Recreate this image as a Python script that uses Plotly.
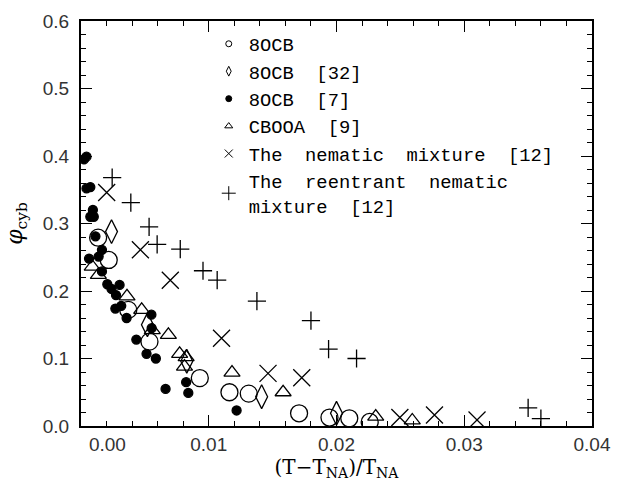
import plotly.graph_objects as go

# ---- data ----
ocb_x = [0.00134, 0.00217, 0.0037, 0.00536, 0.00930, 0.01162, 0.01313, 0.01707, 0.01945, 0.02100, 0.02260]
ocb_y = [0.279, 0.246, 0.172, 0.125, 0.0710, 0.0500, 0.0480, 0.0188, 0.0125, 0.0114, 0.0060]

ocb32_x = [0.00239, 0.00520, 0.00828, 0.01414, 0.02000]
ocb32_y = [0.288, 0.150, 0.096, 0.0434, 0.0188]

ocb7_x = [0.00023, 0.00043, 0.00043, 0.00073, 0.00093, 0.00073, 0.00100, 0.00113, 0.00164, 0.00063,
          0.00138, 0.00164, 0.00206, 0.00239, 0.00274, 0.00302, 0.00315, 0.00269, 0.00357, 0.00551,
          0.00553, 0.00433, 0.00513, 0.00586, 0.00662, 0.00823, 0.00840, 0.01218]
ocb7_y = [0.395, 0.399, 0.352, 0.354, 0.320, 0.310, 0.310, 0.281, 0.261, 0.248,
          0.251, 0.229, 0.210, 0.203, 0.194, 0.209, 0.178, 0.174, 0.160, 0.165,
          0.145, 0.128, 0.107, 0.100, 0.055, 0.065, 0.049, 0.023]

cbooa_x = [0.00088, 0.00136, 0.00360, 0.00475, 0.00558, 0.00684, 0.00772, 0.00823, 0.00810, 0.01182, 0.01582, 0.02307, 0.02593]
cbooa_y = [0.236, 0.224, 0.192, 0.172, 0.142, 0.135, 0.107, 0.102, 0.088, 0.079, 0.050, 0.0138, 0.0082]

nem_x = [0.00201, 0.00465, 0.00699, 0.01100, 0.01464, 0.01728, 0.02496, 0.02767, 0.03100]
nem_y = [0.346, 0.261, 0.216, 0.130, 0.078, 0.0716, 0.0125, 0.0163, 0.0090]

reent_x = [0.00244, 0.00390, 0.00533, 0.00596, 0.00777, 0.00955, 0.01066, 0.01377, 0.01800, 0.01938, 0.02157, 0.03500, 0.03600]
reent_y = [0.368, 0.331, 0.295, 0.269, 0.262, 0.230, 0.216, 0.185, 0.156, 0.114, 0.100, 0.027, 0.011]

S = "\u00a0\u00a0"
series_names = ["8OCB", "8OCB" + S + "[32]", "8OCB" + S + "[7]", "CBOOA" + S + "[9]",
                "The" + S + "nematic" + S + "mixture" + S + "[12]",
                "The" + S + "reentrant" + S + "nematic<br>mixture" + S + "[12]"]

x_tickvals = [0.0, 0.01, 0.02, 0.03, 0.04]
x_ticktext = ["\u2007\u2007\u2007\u2007\u20070.00", "0.01", "0.02", "0.03", "0.04"]
y_tickvals = [0.0, 0.1, 0.2, 0.3, 0.4, 0.5, 0.6]
y_ticktext = ["0.0", "0.1", "0.2", "0.3", "0.4", "0.5", "0.6"]

# ---- styles ----
series = [
    (ocb_x, ocb_y, "circle-open", 17, 6),
    (ocb32_x, ocb32_y, "diamond-tall-open", 17, 7),
    (ocb7_x, ocb7_y, "circle", 9, 6),
    (cbooa_x, cbooa_y, "triangle-up-open", 14, 7),
    (nem_x, nem_y, "x-thin-open", 17, 8),
    (reent_x, reent_y, "cross-thin-open", 13, 10),
]

fig = go.Figure()
for (xs, ys, sym, sz, lsz), name in zip(series, series_names):
    fig.add_trace(go.Scatter(
        x=xs, y=ys, mode="markers", showlegend=False,
        marker=dict(symbol=sym, size=sz, color="black",
                    line=dict(color="black", width=1.3)),
    ))
for (xs, ys, sym, sz, lsz), name in zip(series, series_names):
    fig.add_trace(go.Scatter(
        x=[None], y=[None], mode="markers", name=name, showlegend=True,
        marker=dict(symbol=sym, size=lsz, color="black",
                    line=dict(color="black", width=1)),
    ))

tickfont = dict(family="Liberation Sans", size=19, color="#333333")
common = dict(showline=True, linecolor="black", linewidth=2, mirror="allticks",
              ticks="inside", ticklen=11, tickwidth=1.3, tickcolor="black",
              showgrid=False, zeroline=False, tickfont=tickfont,
              ticklabeloverflow="allow")

fig.update_xaxes(range=[0, 0.04], tickvals=x_tickvals, ticktext=x_ticktext,
                 minor=dict(ticks="inside", ticklen=5, tickwidth=1.3, tickcolor="black", dtick=0.002),
                 title=dict(text="(T\u2212T<sub>NA</sub>)/T<sub>NA</sub>",
                            font=dict(family="DejaVu Serif", size=20, color="black"), standoff=6),
                 **common)
fig.update_yaxes(range=[0, 0.6], tickvals=y_tickvals, ticktext=y_ticktext,
                 minor=dict(ticks="inside", ticklen=5, tickwidth=1.3, tickcolor="black", dtick=0.02),
                 ticklabelstandoff=6,
                 title=dict(text="<i>\u03c6</i><sub>cyb</sub>",
                            font=dict(family="DejaVu Serif", size=22, color="black"), standoff=14),
                 **common)

fig.update_layout(
    width=618, height=487,
    margin=dict(l=81, r=7, t=21, b=61),
    paper_bgcolor="white", plot_bgcolor="white",
    legend=dict(x=0.25, y=0.99, xanchor="left", yanchor="top",
                bgcolor="rgba(0,0,0,0)", borderwidth=0,
                font=dict(family="Liberation Mono", size=18.8, color="black"),
                itemwidth=30, tracegroupgap=0),
)

fig.write_html("out.html")
